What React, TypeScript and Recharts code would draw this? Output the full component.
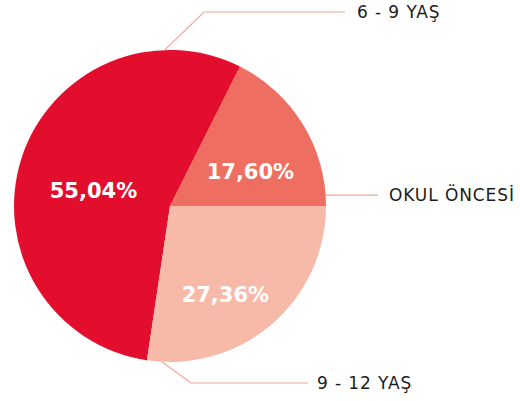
import { Pie, PieChart, Cell } from "recharts"

const categories = ["OKUL ÖNCESİ", "6 - 9 YAŞ", "9 - 12 YAŞ"]
const shares = [17.6, 55.04, 27.36]
const colors = ["#EE6F61", "#E30E2D", "#F8BAA8"]

const data = categories.map((name, i) => ({ name, value: shares[i] }))

const RAD = Math.PI / 180
const font = "'DejaVu Sans', sans-serif"

// where each label sits (polar, relative to the pie) - tuned by eye
const inner = [
  { angle: 23, r: 0.56 },
  { angle: 169, r: 0.5 },
  { angle: 302, r: 0.67 },
]
const leader = [
  { angle: 4, elbow: null as null | [number, number], end: 378, textX: 389 },
  { angle: 92, elbow: [204, 12] as [number, number], end: 345, textX: 357 },
  { angle: 267, elbow: [191, 383] as [number, number], end: 308, textX: 317 },
]

function renderLabel(props: any) {
  const { cx, cy, outerRadius, index, value } = props
  const p = inner[index]
  const lx = cx + outerRadius * p.r * Math.cos(p.angle * RAD)
  const ly = cy - outerRadius * p.r * Math.sin(p.angle * RAD)
  const l = leader[index]
  const sx = cx + outerRadius * Math.cos(l.angle * RAD)
  const sy = cy - outerRadius * Math.sin(l.angle * RAD)
  const ey = l.elbow ? l.elbow[1] : sy
  const pts = l.elbow
    ? `${sx},${sy} ${l.elbow[0]},${l.elbow[1]} ${l.end},${ey}`
    : `${sx},${sy} ${l.end},${ey}`
  return (
    <g key={index}>
      <text
        x={lx}
        y={ly}
        fill="#fff"
        textAnchor="middle"
        dominantBaseline="central"
        fontFamily={font}
        fontWeight={700}
        fontSize={21}
      >
        {value.toFixed(2).replace(".", ",")}%
      </text>
      <polyline points={pts} fill="none" stroke="#F4A595" strokeWidth={1.2} />
      <text
        x={l.textX}
        y={ey}
        fill="#1d1d1b"
        dominantBaseline="central"
        fontFamily={font}
        fontSize={17}
        letterSpacing={0.9}
      >
        {categories[index]}
      </text>
    </g>
  )
}

export default function App() {
  return (
    <div style={{ position: "absolute", left: 0, top: 0 }}>
      <PieChart width={520} height={401} margin={{ top: 0, right: 0, bottom: 0, left: 0 }}>
        <Pie
          data={data}
          dataKey="value"
          cx={170}
          cy={206}
          outerRadius={156}
          startAngle={0}
          endAngle={360}
          stroke="none"
          label={renderLabel}
          labelLine={false}
          isAnimationActive={false}
        >
          {data.map((d, i) => (
            <Cell key={d.name} fill={colors[i]} />
          ))}
        </Pie>
      </PieChart>
    </div>
  )
}
